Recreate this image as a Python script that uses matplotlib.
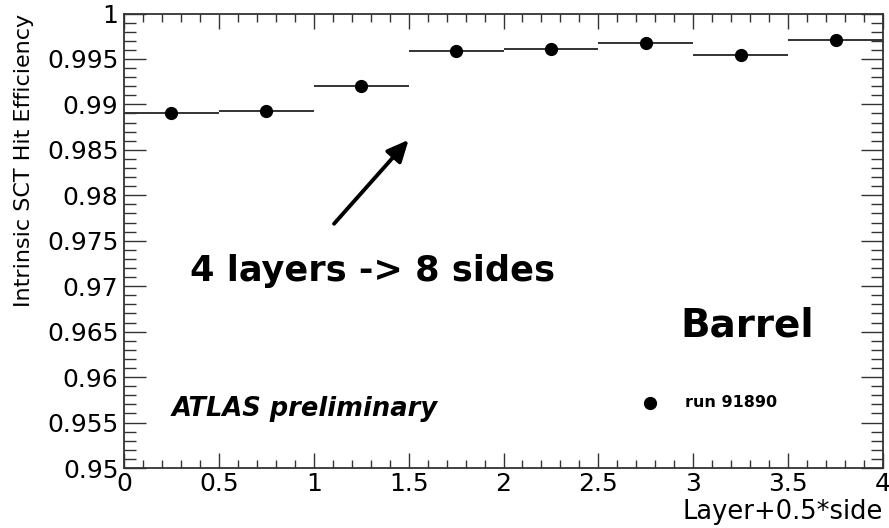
import matplotlib
matplotlib.use("Agg")
import matplotlib.pyplot as plt
from matplotlib.ticker import FixedLocator, MultipleLocator

# SCT barrel: 4 layers x 2 sides -> 8 bins of width 0.5
bin_centers = [0.25, 0.75, 1.25, 1.75, 2.25, 2.75, 3.25, 3.75]
efficiency = [0.9890, 0.9893, 0.9920, 0.9959, 0.9961, 0.9968, 0.9954, 0.9971]
bin_half_width = 0.25

x_ticks = [0, 0.5, 1, 1.5, 2, 2.5, 3, 3.5, 4]
x_tick_labels = ["0", "0.5", "1", "1.5", "2", "2.5", "3", "3.5", "4"]
y_ticks = [0.95, 0.955, 0.96, 0.965, 0.97, 0.975, 0.98, 0.985, 0.99, 0.995, 1.0]
y_tick_labels = ["0.95", "0.955", "0.96", "0.965", "0.97", "0.975",
                 "0.98", "0.985", "0.99", "0.995", "1"]

plt.rcParams["font.family"] = ["DejaVu Sans"]

fig = plt.figure(figsize=(8.89, 5.28), dpi=100)
ax = fig.add_axes([124 / 889, 1 - 468 / 528, 759 / 889, 454.5 / 528])

ax.errorbar(bin_centers, efficiency, xerr=bin_half_width, fmt="o",
            color="black", ecolor="#333333", elinewidth=1.4,
            markersize=8.5, capsize=0, zorder=3)

ax.set_xlim(0, 4)
ax.set_ylim(0.95, 1.0)
ax.xaxis.set_major_locator(FixedLocator(x_ticks))
ax.set_xticklabels(x_tick_labels)
ax.xaxis.set_minor_locator(MultipleLocator(0.1))
ax.yaxis.set_major_locator(FixedLocator(y_ticks))
ax.set_yticklabels(y_tick_labels)
ax.yaxis.set_minor_locator(MultipleLocator(0.001))

ax.tick_params(which="both", direction="in", top=True, right=True,
               color="#333333", width=1.0, labelsize=18, labelcolor="black")
ax.tick_params(axis="x", which="major", length=10.5, pad=3)
ax.tick_params(axis="x", which="minor", length=5.6)
ax.tick_params(axis="y", which="major", length=16, pad=4)
ax.tick_params(axis="y", which="minor", length=8.6)
for sp in ax.spines.values():
    sp.set_color("#333333")
    sp.set_linewidth(1.3)

ax.set_xlabel("Layer+0.5*side", fontsize=18.5, loc="right", labelpad=2)
ax.set_ylabel("Intrinsic SCT Hit Efficiency", fontsize=16, loc="top", labelpad=9)

ax.annotate("", xy=(1.50, 0.9861), xytext=(1.107, 0.97687),
            arrowprops=dict(arrowstyle="-|>,head_length=1.3,head_width=0.6",
                            color="black", lw=2.8, shrinkA=0, shrinkB=0))

ax.text(0.348, 0.9706, "4 layers -> 8 sides", fontsize=25.3, fontweight="bold",
        ha="left", va="baseline")
ax.text(2.93, 0.9645, "Barrel", fontsize=28, fontweight="bold",
        ha="left", va="baseline")
ax.text(0.253, 0.9557, "ATLAS preliminary", fontsize=18.5, fontweight="bold",
        fontstyle="italic", ha="left", va="baseline")

ax.plot([2.772], [0.9572], "o", color="black", markersize=8.5)
ax.text(2.957, 0.9572, "run 91890", fontsize=11.5, fontweight="bold",
        ha="left", va="center")

fig.savefig("out.png", dpi=100)
